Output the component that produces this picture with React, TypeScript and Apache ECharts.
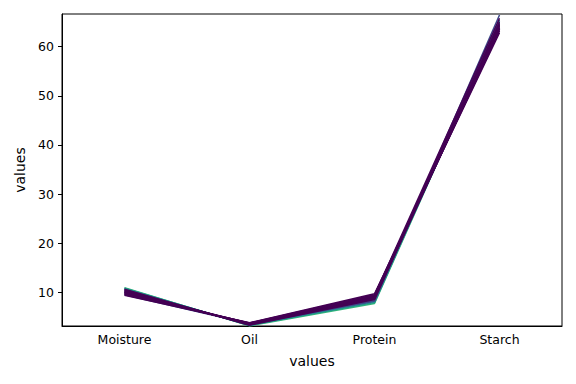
import React, { useEffect, useRef } from "react";
import * as echarts from "echarts";

const categories = ["Moisture", "Oil", "Protein", "Starch"];
const yTicks = [10, 20, 30, 40, 50, 60];

// each sample: one line across the four variables (drawn in this order)
const moisture = [10.95, 10.8, 10.7, 10.5, 10.2, 9.5, 10.0, 9.8, 9.4, 9.6, 9.9, 10.1, 10.3, 9.7, 10.4, 10.0, 10.6];
const oil = [3.15, 3.25, 3.3, 3.4, 3.5, 3.6, 3.55, 3.7, 3.8, 3.75, 3.6, 3.5, 3.45, 3.65, 3.4, 3.7, 3.3];
const protein = [7.7, 7.9, 8.1, 8.3, 8.6, 8.2, 8.8, 9.0, 9.7, 9.5, 9.3, 9.1, 8.9, 9.2, 8.7, 9.4, 8.5];
const starch = [64.8, 65.2, 64.5, 64.9, 65.5, 66.45, 64.0, 63.5, 62.85, 63.2, 63.6, 64.2, 64.6, 65.0, 63.8, 65.8, 64.4];
const colors = [
  "#35b779", "#1f9e89", "#26828e", "#31688e", "#3e4989", "#3e4989", "#482878", "#482878",
  "#440154", "#440154", "#440154", "#440154", "#440154", "#440154", "#440154", "#440154", "#440154",
];

export default function App() {
  const ref = useRef<HTMLDivElement>(null);
  useEffect(() => {
    if (!ref.current) return;
    const chart = echarts.init(ref.current, null, { renderer: "svg" });
    const font = "DejaVu Sans";
    const series = moisture.map((m, i) => ({
      type: "line",
      data: [m, oil[i], protein[i], starch[i]],
      symbol: "none",
      lineStyle: { color: colors[i], width: 1.5 },
      itemStyle: { color: colors[i] },
      silent: true,
    }));
    chart.setOption({
      animation: false,
      backgroundColor: "#fff",
      textStyle: { fontFamily: font },
      grid: { left: 62, right: 14, top: 14, bottom: 58, show: true, borderColor: "#000", borderWidth: 1, backgroundColor: "transparent" },
      xAxis: {
        type: "category",
        data: categories,
        boundaryGap: true,
        name: "values",
        nameLocation: "middle",
        nameGap: 28,
        nameTextStyle: { fontSize: 14, color: "#000", fontFamily: font },
        axisLine: { lineStyle: { color: "#000", width: 1 } },
        axisTick: { alignWithLabel: true, length: 4, lineStyle: { color: "#000" } },
        axisLabel: { fontSize: 12.5, color: "#000", margin: 7, fontFamily: font },
        splitLine: { show: false },
      },
      yAxis: {
        type: "value",
        min: 3.13,
        max: 66.66,
        name: "values",
        nameLocation: "middle",
        nameGap: 35,
        nameTextStyle: { fontSize: 14, color: "#000", fontFamily: font },
        axisLine: { show: true, lineStyle: { color: "#000", width: 1 } },
        axisTick: { show: true, length: 4, lineStyle: { color: "#000" }, customValues: yTicks },
        axisLabel: { fontSize: 12.5, color: "#000", margin: 8, fontFamily: font, customValues: yTicks },
        splitLine: { show: false },
      },
      series,
    });
    return () => chart.dispose();
  }, []);
  return <div ref={ref} style={{ position: "fixed", left: 0, top: 0, width: 576, height: 384 }} />;
}
